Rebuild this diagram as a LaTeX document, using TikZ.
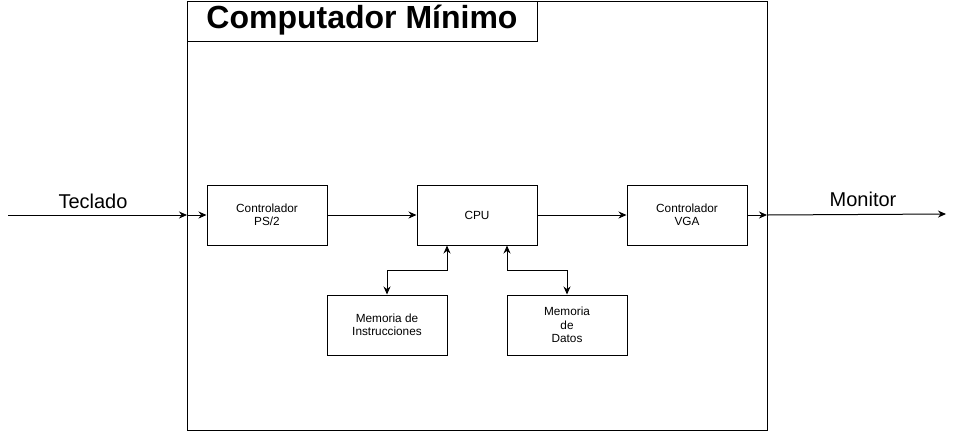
\documentclass[tikz,border=0pt]{standalone}
\usepackage{fontspec}
\setmainfont{Liberation Sans}
\usetikzlibrary{arrows.meta}
\begin{document}
\begin{tikzpicture}[x=1pt,y=-1pt,line width=1pt,
  blk/.style={draw,minimum width=120pt,minimum height=60pt,align=center,font=\fontsize{11.8}{13.5}\selectfont,inner sep=0pt},
  arr/.style={-{Stealth[length=8pt,width=7pt]}},
  darr/.style={{Stealth[length=8pt,width=7pt]}-{Stealth[length=8pt,width=7pt]}},
  lbl/.style={font=\fontsize{20}{22}\selectfont}]
\useasboundingbox (0,0) rectangle (957,432);
\node[draw,minimum width=580pt,minimum height=429.5pt,inner sep=0pt,anchor=north west] (frame) at (187,0.5) {};
\node[draw,minimum width=350pt,minimum height=40pt,inner sep=0pt,anchor=north west] (title) at (187,0.5) {};
\node[font=\fontsize{32}{34}\selectfont\bfseries] (titletext) at (362,20) {Computador Mínimo};
\node[blk] (ps2) at (267,215) {Controlador\\PS/2};
\node[blk] (cpu) at (477,215) {CPU};
\node[blk] (vga) at (687,215) {Controlador\\VGA};
\node[blk] (mi) at (387,325) {Memoria de\\Instrucciones};
\node[blk] (md) at (567,325) {Memoria\\de\\Datos};
\coordinate (tin) at (8,215);
\coordinate (fin) at (187,215);
\coordinate (fout) at (767,215);
\coordinate (mout) at (946,214);
\draw[arr] (tin) -- (fin);
\draw[arr] (fin) -- (ps2.west);
\draw[arr] (ps2) -- (cpu);
\draw[arr] (cpu) -- (vga);
\draw[arr] (vga.east) -- (fout);
\draw[arr] (fout) -- (mout);
\node[lbl] (teclado) at (93,201) {Teclado};
\node[lbl] (monitor) at (863,199) {Monitor};
\draw[darr] (cpu.south -| 447,0) -- (447,270) -- (387,270) -- (mi.north);
\draw[darr] (cpu.south -| 507,0) -- (507,270) -- (567,270) -- (md.north);
\end{tikzpicture}
\end{document}
